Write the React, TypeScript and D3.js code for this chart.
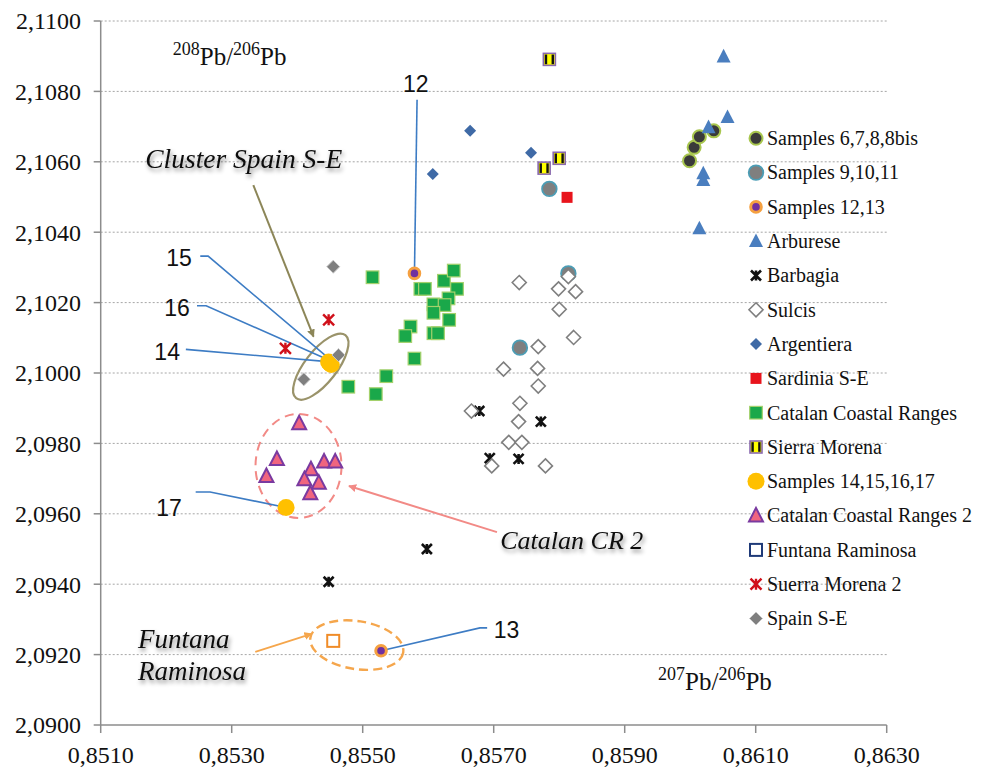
import React from "react";
import * as d3 from "d3";

type Pt = [number, number];

// 207Pb/206Pb (x) and 208Pb/206Pb (y)
const samples6_8: Pt[] = [[0.85999, 2.10603], [0.86006, 2.10641], [0.86014, 2.10671], [0.86036, 2.10688]];
const samples9_11: Pt[] = [[0.85785, 2.10523], [0.85814, 2.10283], [0.8574, 2.10072]];
const samples12_13: Pt[] = [[0.85579, 2.10283], [0.85528, 2.09211]];
const arburese: Pt[] = [[0.86051, 2.10899], [0.86057, 2.10727], [0.86028, 2.10698], [0.8602, 2.10567], [0.8602, 2.10548], [0.86014, 2.10411]];
const barbagia: Pt[] = [[0.85678, 2.09892], [0.85772, 2.09862], [0.85694, 2.09758], [0.85738, 2.09756], [0.85448, 2.09407], [0.85598, 2.095]];
const sulcis: Pt[] = [
  [0.85739, 2.10257], [0.85814, 2.10274], [0.85799, 2.10239], [0.85825, 2.10231], [0.858, 2.10181],
  [0.85822, 2.10101], [0.85768, 2.10075], [0.85715, 2.10011], [0.85767, 2.10013], [0.85768, 2.09963],
  [0.8574, 2.09914], [0.85666, 2.09892], [0.85738, 2.09862], [0.85723, 2.09803], [0.85743, 2.09803],
  [0.85697, 2.09736], [0.85779, 2.09736],
];
const argentiera: Pt[] = [[0.85664, 2.10688], [0.85607, 2.10565], [0.85757, 2.10626]];
const sardiniaSE: Pt[] = [[0.85812, 2.10499]];
const catalanCR: Pt[] = [
  [0.85515, 2.10272], [0.85588, 2.10239], [0.85595, 2.10239], [0.85624, 2.10262], [0.85639, 2.10291],
  [0.85644, 2.10239], [0.85631, 2.10212], [0.85608, 2.10195], [0.85625, 2.10193], [0.85608, 2.10171],
  [0.85632, 2.10151], [0.85573, 2.10132], [0.85565, 2.10105], [0.85608, 2.10113], [0.85615, 2.10113],
  [0.85579, 2.10041], [0.85536, 2.09991], [0.85478, 2.09961], [0.8552, 2.0994],
];
const sierraMorena: Pt[] = [[0.85785, 2.10891], [0.858, 2.1061], [0.85777, 2.10582]];
const samples14_17: Pt[] = [[0.8545, 2.10028], [0.85452, 2.10024], [0.85448, 2.10031], [0.85383, 2.09618]];
const catalanCR2: Pt[] = [
  [0.85403, 2.09857], [0.85369, 2.09755], [0.85353, 2.09707], [0.85421, 2.09726], [0.85441, 2.09748],
  [0.85458, 2.09748], [0.85411, 2.09698], [0.85433, 2.09688], [0.8542, 2.09658],
];
const funtanaRaminosa: Pt[] = [[0.85455, 2.09239]];
const suerraMorena2: Pt[] = [[0.85448, 2.10151], [0.85382, 2.1007]];
const spainSE: Pt[] = [[0.85455, 2.10302], [0.85463, 2.10051], [0.8541, 2.09982]];

const SERIES_NAMES = [
  "Samples 6,7,8,8bis", "Samples 9,10,11", "Samples 12,13", "Arburese", "Barbagia", "Sulcis",
  "Argentiera", "Sardinia S-E", "Catalan Coastal Ranges", "Sierra Morena", "Samples 14,15,16,17",
  "Catalan Coastal Ranges 2", "Funtana Raminosa", "Suerra Morena 2", "Spain S-E",
];
const SERIES_DATA: Pt[][] = [
  samples6_8, samples9_11, samples12_13, arburese, barbagia, sulcis, argentiera, sardiniaSE,
  catalanCR, sierraMorena, samples14_17, catalanCR2, funtanaRaminosa, suerraMorena2, spainSE,
];

const X_TICKS = [0.851, 0.853, 0.855, 0.857, 0.859, 0.861, 0.863];
const Y_TICKS = [2.09, 2.092, 2.094, 2.096, 2.098, 2.1, 2.102, 2.104, 2.106, 2.108, 2.11];

const SERIF = "'Liberation Serif', 'Times New Roman', serif";
const SANS = "'Liberation Sans', Arial, sans-serif";

const fmt = (v: number) => d3.format(".4f")(v).replace(".", ",");

const tri = (s: number) => `M0,${-s * 0.55}L${s / 2},${s * 0.42}L${-s / 2},${s * 0.42}Z`;
const diamond = (s: number) => `M0,${-s / 2}L${s / 2},0L0,${s / 2}L${-s / 2},0Z`;
const star = (s: number) =>
  `M${-s / 2},${-s / 2}L${s / 2},${s / 2}M${s / 2},${-s / 2}L${-s / 2},${s / 2}M0,${-s / 2}L0,${s / 2}`;

function Marker({ i, legend }: { i: number; legend?: boolean }) {
  switch (i) {
    case 0: return <circle r={6.5} fill="#3a3a3a" stroke="#a8c64e" strokeWidth={2} />;
    case 1: return <circle r={7.3} fill="#7f7f7f" stroke="#4c9db5" strokeWidth={1.8} />;
    case 2: return <circle r={5.3} fill="#7030a0" stroke="#f5a040" strokeWidth={3} />;
    case 3: return <path d={tri(14)} fill="#4a7ebf" />;
    case 4: return <path d={star(10)} stroke="#111" strokeWidth={2.6} fill="none" />;
    case 5: return <path d={diamond(14)} fill="#fff" stroke="#7f7f7f" strokeWidth={1.6} />;
    case 6: return <path d={diamond(12)} fill="#3f6aa6" />;
    case 7: return <rect x={-5.5} y={-5.5} width={11} height={11} fill="#e8141c" />;
    case 8: return <rect x={-6.3} y={-6.3} width={12.6} height={12.6} fill="#1aa84a" stroke="#a4d16c" strokeWidth={1.2} />;
    case 9:
      return (
        <g>
          <rect x={-6} y={-6} width={12} height={12} fill="#ffff00" stroke="#8a6ab0" strokeWidth={1.6} />
          <rect x={-4.6} y={-4.8} width={2.4} height={9.6} fill="#111" />
          <rect x={2.2} y={-4.8} width={2.4} height={9.6} fill="#111" />
        </g>
      );
    case 10: return <circle r={8.5} fill="#ffc000" />;
    case 11: return <path d={tri(14)} fill="#f0657f" stroke="#7a3aa0" strokeWidth={2} />;
    case 12:
      return <rect x={-6} y={-6} width={12} height={12} fill="#fff" stroke={legend ? "#1f3a78" : "#f08c28"} strokeWidth={2} />;
    case 13: return <path d={star(11)} stroke="#d0101a" strokeWidth={2.4} fill="none" />;
    default: return <path d={diamond(13)} fill="#7f7f7f" stroke="#c8c8c8" strokeWidth={1} />;
  }
}

function IsoLabel({ x, y, top }: { x: number; y: number; top: string }) {
  return (
    <text x={x} y={y} fontFamily={SERIF} fill="#111" fontSize={25}>
      <tspan fontSize={18} dy={-10}>{top}</tspan><tspan dy={10}>Pb/</tspan>
      <tspan fontSize={18} dy={-10}>206</tspan><tspan dy={10}>Pb</tspan>
    </text>
  );
}

export default function App() {
  const W = 988, H = 767;
  const x = d3.scaleLinear().domain([0.851, 0.863]).range([100.7, 886.7]);
  const y = d3.scaleLinear().domain([2.09, 2.11]).range([725, 21]);
  const [x0, x1] = x.range();
  const [y0, y1] = y.range();

  const P = (px: number, py: number) => [x(px), y(py)];
  const line = (pts: Pt[]) => d3.line()(pts.map(([a, b]) => P(a, b) as [number, number])) ?? "";

  const oliveC = P(0.85436, 2.10018);
  const pinkC = P(0.85402, 2.09736);
  const orangeC = P(0.85491, 2.09227);

  return (
    <svg width={W} height={H} style={{ position: "absolute", left: 0, top: 0, background: "#fff" }}>
      <defs>
        <filter id="shadow" x="-10%" y="-30%" width="130%" height="180%">
          <feDropShadow dx="1.5" dy="3" stdDeviation="2" floodColor="#000" floodOpacity="0.45" />
        </filter>
        {[["olive", "#8c8658"], ["pink", "#f28a86"], ["orange", "#f5a64c"]].map(([id, c]) => (
          <marker key={id} id={`arr-${id}`} viewBox="0 0 10 10" refX="9" refY="5" markerWidth="8" markerHeight="8"
            markerUnits="userSpaceOnUse" orient="auto">
            <path d="M0,0L10,5L0,10Z" fill={c} />
          </marker>
        ))}
      </defs>

      {/* gridlines */}
      {Y_TICKS.slice(1).map((t) => (
        <line key={t} x1={x0} x2={x1} y1={y(t)} y2={y(t)} stroke="#a6a6a6" strokeDasharray="2,2" strokeWidth={1} />
      ))}

      {/* axes */}
      <line x1={x0} x2={x0} y1={y1} y2={y0} stroke="#8c8c8c" strokeWidth={1.5} />
      <line x1={x0} x2={x1} y1={y0} y2={y0} stroke="#8c8c8c" strokeWidth={1.5} />
      {Y_TICKS.map((t) => (
        <g key={t}>
          <line x1={x0 - 7} x2={x0} y1={y(t)} y2={y(t)} stroke="#8c8c8c" strokeWidth={1.5} />
          <text x={81} y={y(t)} dy="0.35em" textAnchor="end" fontFamily={SERIF} fontSize={24} fill="#111">{fmt(t)}</text>
        </g>
      ))}
      {X_TICKS.map((t) => (
        <g key={t}>
          <line x1={x(t)} x2={x(t)} y1={y0} y2={y0 + 8} stroke="#8c8c8c" strokeWidth={1.5} />
          <text x={x(t)} y={763} textAnchor="middle" fontFamily={SERIF} fontSize={24} fill="#111">{fmt(t)}</text>
        </g>
      ))}

      {/* axis titles */}
      <IsoLabel x={x(0.8521)} y={y(2.10875)} top="208" />
      <IsoLabel x={x(0.85951)} y={y(2.09099)} top="207" />

      {/* annotation shapes */}
      <ellipse cx={oliveC[0]} cy={oliveC[1]} rx={40} ry={16} transform={`rotate(-52 ${oliveC[0]} ${oliveC[1]})`}
        fill="none" stroke="#9a936a" strokeWidth={2.2} />
      <ellipse cx={pinkC[0]} cy={pinkC[1]} rx={43} ry={52} fill="none" stroke="#f28a86" strokeWidth={2}
        strokeDasharray="9,6" />
      <ellipse cx={orangeC[0]} cy={orangeC[1]} rx={47} ry={24} transform={`rotate(9 ${orangeC[0]} ${orangeC[1]})`}
        fill="none" stroke="#f5a64c" strokeWidth={2.4} strokeDasharray="9,5" />

      {/* leader lines */}
      <g fill="none" stroke="#3d7cc4" strokeWidth={1.6}>
        <path d={line([[0.85252, 2.10332], [0.85264, 2.10332], [0.85455, 2.10031]])} />
        <path d={line([[0.85247, 2.10191], [0.85261, 2.10191], [0.85455, 2.10031]])} />
        <path d={line([[0.8523, 2.10067], [0.85455, 2.10031]])} />
        <path d={line([[0.85583, 2.10776], [0.85579, 2.10283]])} />
        <path d={line([[0.85245, 2.09662], [0.85267, 2.09662], [0.85383, 2.09618]])} />
        <path d={line([[0.8569, 2.09276], [0.85679, 2.09276], [0.85528, 2.09211]])} />
      </g>
      <path d={line([[0.85333, 2.10534], [0.85425, 2.10103]])} stroke="#8c8658" strokeWidth={2} markerEnd="url(#arr-olive)" />
      <path d={line([[0.85705, 2.09548], [0.85479, 2.09679]])} stroke="#f28a86" strokeWidth={2} markerEnd="url(#arr-pink)" />
      <path d={line([[0.85336, 2.09208], [0.85422, 2.09259]])} stroke="#f5a64c" strokeWidth={1.8} markerEnd="url(#arr-orange)" />

      {/* data points */}
      {SERIES_DATA.map((pts, i) => (
        <g key={SERIES_NAMES[i]}>
          {pts.map(([a, b], j) => (
            <g key={j} transform={`translate(${x(a)},${y(b)})`}><Marker i={i} /></g>
          ))}
        </g>
      ))}

      {/* number labels */}
      <g fontFamily={SANS} fontSize={23} fill="#111">
        <text x={x(0.85239)} y={y(2.10304)} textAnchor="end">15</text>
        <text x={x(0.85236)} y={y(2.10162)} textAnchor="end">16</text>
        <text x={x(0.85221)} y={y(2.10037)} textAnchor="end">14</text>
        <text x={x(0.85581)} y={y(2.10798)} textAnchor="middle">12</text>
        <text x={x(0.85224)} y={y(2.09594)} textAnchor="end">17</text>
        <text x={x(0.857)} y={y(2.09247)}>13</text>
      </g>

      {/* italic callouts */}
      <g fontFamily={SERIF} fontStyle="italic" fill="#111" filter="url(#shadow)">
        <text x={x(0.85168)} y={y(2.10582)} fontSize={27.5}>Cluster Spain S-E</text>
        <text x={x(0.8571)} y={y(2.095)} fontSize={26}>Catalan CR 2</text>
        <text x={x(0.85157)} y={y(2.09219)} fontSize={27}>Funtana</text>
        <text x={x(0.85157)} y={y(2.09128)} fontSize={27}>Raminosa</text>
      </g>

      {/* legend */}
      <g>
        {SERIES_NAMES.map((name, i) => {
          const ly = 138.3 + i * 34.3;
          return (
            <g key={name}>
              <g transform={`translate(756,${ly})`}><Marker i={i} legend /></g>
              <text x={767} y={ly} dy="0.34em" fontFamily={SERIF} fontSize={20} fill="#111">{name}</text>
            </g>
          );
        })}
      </g>
    </svg>
  );
}
